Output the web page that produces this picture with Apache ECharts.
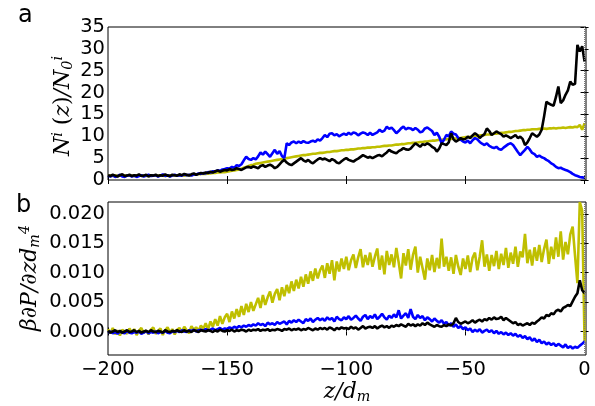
<!DOCTYPE html>
<html><head><meta charset="utf-8">
<script src="https://cdn.jsdelivr.net/npm/echarts@6/dist/echarts.min.js"></script>
<style>html,body{margin:0;padding:0;background:#fff}#c{width:595px;height:406px}</style>
</head><body><div id="c"></div>
<script>
// z positions (units of d_m)
const z = [-200,-199,-198,-197,-196,-195,-194,-193,-192,-191,-190,-189,-188,-187,-186,-185,-184,-183,-182,-181,-180,-179,-178,-177,-176,-175,-174,-173,-172,-171,-170,-169,-168,-167,-166,-165,-164,-163,-162,-161,-160,-159,-158,-157,-156,-155,-154,-153,-152,-151,-150,-149,-148,-147,-146,-145,-144,-143,-142,-141,-140,-139,-138,-137,-136,-135,-134,-133,-132,-131,-130,-129,-128,-127,-126,-125,-124,-123,-122,-121,-120,-119,-118,-117,-116,-115,-114,-113,-112,-111,-110,-109,-108,-107,-106,-105,-104,-103,-102,-101,-100,-99,-98,-97,-96,-95,-94,-93,-92,-91,-90,-89,-88,-87,-86,-85,-84,-83,-82,-81,-80,-79,-78,-77,-76,-75,-74,-73,-72,-71,-70,-69,-68,-67,-66,-65,-64,-63,-62,-61,-60,-59,-58,-57,-56,-55,-54,-53,-52,-51,-50,-49,-48,-47,-46,-45,-44,-43,-42,-41,-40,-39,-38,-37,-36,-35,-34,-33,-32,-31,-30,-29,-28,-27,-26,-25,-24,-23,-22,-21,-20,-19,-18,-17,-16,-15,-14,-13,-12,-11,-10,-9,-8,-7,-6,-5,-4,-3,-2,-1,0];

// panel a: N^i(z)/N_0^i
const topYellow = [
1.0,1.1,0.9,1.0,1.0,1.1,0.9,1.0,1.1,1.0,
1.0,0.9,1.0,1.1,1.0,1.0,0.9,1.0,1.1,1.0,
1.0,1.0,1.1,1.0,0.9,1.0,1.1,1.0,1.0,1.1,
1.0,1.1,1.0,1.1,1.2,1.1,1.2,1.3,1.3,1.4,
1.4,1.4,1.5,1.5,1.6,1.6,1.7,1.7,1.8,1.8,
1.9,2.0,2.1,2.2,2.3,2.4,2.6,2.8,3.0,3.2,
3.4,3.5,3.7,3.8,3.9,4.0,4.1,4.2,4.3,4.4,
4.5,4.6,4.7,4.8,4.9,5.0,5.1,5.2,5.3,5.4,
5.5,5.6,5.7,5.7,5.8,5.9,6.0,6.0,6.1,6.2,
6.2,6.3,6.4,6.4,6.5,6.6,6.6,6.7,6.8,6.8,
6.9,6.9,7.0,7.0,7.1,7.2,7.2,7.3,7.3,7.4,
7.4,7.5,7.5,7.6,7.6,7.7,7.8,7.8,7.9,7.9,
8.0,8.1,8.1,8.2,8.2,8.3,8.4,8.4,8.5,8.5,
8.6,8.7,8.7,8.8,8.8,8.9,9.0,9.0,9.1,9.2,
9.2,9.3,9.3,9.4,9.4,9.5,9.5,9.6,9.6,9.7,
9.8,9.8,9.9,10.0,10.0,10.1,10.2,10.2,10.3,10.4,
10.4,10.5,10.6,10.6,10.7,10.8,10.8,10.9,11.0,11.0,
11.1,11.2,11.2,11.3,11.4,11.4,11.5,11.5,11.6,11.6,
11.6,11.7,11.7,11.8,11.7,11.8,11.8,11.9,11.8,11.9,
11.9,12.0,11.9,12.0,12.1,12.0,12.2,12.1,12.6,11.5,
13.0];
const topBlue = [
1.0,0.8,1.1,0.7,0.9,1.2,0.8,0.7,1.0,1.1,
0.8,1.0,0.7,0.9,1.1,0.8,1.0,1.2,0.9,1.0,
1.1,0.8,1.0,1.3,0.9,1.1,0.8,1.0,1.2,1.0,
1.1,1.0,1.3,1.1,1.2,1.0,1.3,1.2,1.5,1.4,
1.6,1.5,1.8,1.7,2.0,1.9,2.2,2.1,2.4,2.5,
2.7,2.6,3.0,2.8,3.4,3.2,3.6,4.5,5.3,4.8,
4.6,5.0,4.7,5.4,6.3,5.8,6.5,5.9,5.3,6.1,
6.9,6.0,6.6,5.5,5.0,8.4,8.0,8.6,8.8,8.4,
8.8,8.5,8.9,8.6,8.5,8.8,9.0,8.7,9.3,9.0,
9.6,10.3,9.8,10.6,10.7,10.2,10.5,10.0,10.3,10.6,
10.3,10.8,10.4,10.9,10.7,10.2,10.6,10.9,10.7,10.3,
10.8,10.3,10.6,10.9,11.5,11.0,11.3,12.2,11.7,12.0,
11.4,10.7,11.2,11.8,12.2,11.6,11.9,11.8,11.4,11.9,
11.5,10.9,11.1,11.8,12.0,11.6,11.2,10.3,10.8,9.9,
8.4,9.2,10.3,10.0,11.1,10.6,10.4,9.6,9.2,8.8,
8.6,9.0,8.4,9.1,9.6,9.3,8.7,8.3,8.0,8.4,
7.8,7.5,7.3,7.6,7.1,6.9,7.4,7.8,8.2,8.4,
8.0,7.2,6.4,5.7,6.3,6.9,7.6,7.0,6.2,5.9,
5.3,5.6,5.2,5.0,4.6,4.3,3.8,3.5,3.0,2.7,
2.8,2.5,2.3,2.1,1.8,1.4,1.1,0.9,0.7,0.6,
0.5];
const topBlack = [
1.1,0.9,1.2,1.0,0.8,1.1,1.3,0.9,1.0,1.2,
0.9,1.1,1.0,1.3,0.9,1.0,1.2,0.8,1.1,1.0,
1.2,0.9,1.1,1.0,1.3,1.0,0.9,1.2,1.1,1.0,
1.3,1.1,1.4,1.2,1.0,1.3,1.5,1.2,1.4,1.6,
1.5,1.7,1.6,1.9,1.7,2.0,2.2,1.9,2.1,2.3,
2.2,2.5,2.3,2.4,2.7,2.5,2.3,2.6,2.9,3.0,
2.8,3.1,2.9,2.7,3.2,3.4,3.0,3.3,3.5,3.2,
2.7,3.0,3.6,4.2,4.6,4.0,3.6,3.4,3.8,4.2,
4.6,5.0,4.5,4.2,4.6,4.1,3.8,4.3,4.7,5.0,
4.7,4.9,4.6,4.3,4.8,4.5,4.0,3.8,4.3,4.7,
5.0,4.6,4.4,4.2,4.6,4.9,5.3,5.7,5.4,5.1,
5.3,5.0,5.3,5.6,5.7,5.4,5.9,6.3,6.9,6.5,
6.3,6.1,6.6,6.9,7.3,7.0,6.9,7.2,7.8,8.4,
8.0,7.6,8.2,8.0,8.4,8.1,7.6,7.3,6.5,7.2,
8.4,8.2,8.0,8.6,10.7,9.3,8.8,9.1,9.6,9.3,
9.4,9.9,9.6,10.2,10.7,10.3,9.6,10.1,10.5,11.8,
11.2,10.3,10.7,11.1,10.8,10.5,9.9,10.2,9.9,9.6,
9.9,10.3,9.6,9.9,9.4,8.0,8.6,9.6,10.7,10.3,
9.9,10.4,11.5,14.5,17.9,17.5,17.2,17.0,19.0,21.4,
17.6,18.2,19.5,20.5,22.5,21.8,22.0,30.9,29.4,30.6,
27.1];

// panel b: beta dP/dz d_m^4
const botYellow = [
0.0004,-0.0003,0.0006,-0.0005,0.0002,-0.0007,0.0003,0.0000,-0.0004,0.0005,
-0.0002,0.0004,-0.0006,0.0001,0.0006,-0.0003,0.0002,-0.0005,0.0003,0.0007,
-0.0004,0.0001,0.0005,-0.0006,0.0002,0.0007,-0.0002,0.0004,-0.0005,0.0003,
0.0006,-0.0001,0.0008,0.0002,-0.0003,0.0009,0.0003,0.0007,0.0001,0.0010,
0.0004,0.0014,0.0003,0.0017,0.0008,0.0021,0.0010,0.0026,0.0013,0.0024,
0.0030,0.0016,0.0034,0.0022,0.0038,0.0025,0.0043,0.0028,0.0047,0.0033,
0.0050,0.0035,0.0046,0.0057,0.0040,0.0062,0.0045,0.0058,0.0068,0.0049,
0.0064,0.0072,0.0053,0.0075,0.0060,0.0079,0.0065,0.0085,0.0069,0.0088,
0.0073,0.0093,0.0076,0.0097,0.0081,0.0102,0.0086,0.0107,0.0090,0.0104,
0.0112,0.0091,0.0116,0.0098,0.0121,0.0087,0.0119,0.0102,0.0124,0.0106,
0.0127,0.0104,0.0121,0.0131,0.0108,0.0126,0.0140,0.0109,0.0130,0.0113,
0.0134,0.0110,0.0127,0.0141,0.0105,0.0129,0.0097,0.0137,0.0113,0.0131,
0.0109,0.0142,0.0117,0.0090,0.0133,0.0112,0.0140,0.0105,0.0130,0.0144,
0.0100,0.0127,0.0108,0.0088,0.0124,0.0104,0.0130,0.0101,0.0125,0.0107,
0.0158,0.0110,0.0127,0.0103,0.0126,0.0098,0.0130,0.0110,0.0096,0.0124,
0.0106,0.0129,0.0101,0.0125,0.0134,0.0104,0.0127,0.0155,0.0110,0.0131,
0.0103,0.0130,0.0111,0.0137,0.0106,0.0132,0.0113,0.0142,0.0108,0.0134,
0.0115,0.0144,0.0110,0.0136,0.0126,0.0166,0.0116,0.0139,0.0112,0.0143,
0.0120,0.0147,0.0118,0.0140,0.0156,0.0115,0.0144,0.0123,0.0160,0.0127,
0.0170,0.0122,0.0152,0.0131,0.0165,0.0178,0.0129,0.0082,0.0220,0.0205,
-0.0017];
const botBlue = [
-0.0002,0.0000,-0.0003,-0.0001,-0.0004,0.0000,-0.0002,-0.0003,0.0001,-0.0002,
-0.0003,-0.0001,-0.0002,0.0000,-0.0004,-0.0002,0.0001,-0.0003,-0.0001,-0.0002,
0.0000,-0.0003,-0.0001,-0.0002,0.0001,-0.0002,-0.0003,0.0000,-0.0001,0.0001,
-0.0001,0.0002,0.0000,-0.0001,0.0002,0.0001,0.0003,0.0000,0.0002,0.0003,
0.0001,0.0004,0.0002,0.0003,0.0005,0.0002,0.0004,0.0006,0.0003,0.0005,
0.0004,0.0007,0.0005,0.0008,0.0006,0.0009,0.0007,0.0010,0.0008,0.0011,
0.0009,0.0012,0.0010,0.0014,0.0011,0.0013,0.0009,0.0015,0.0012,0.0014,
0.0011,0.0016,0.0013,0.0015,0.0017,0.0012,0.0018,0.0015,0.0019,0.0016,
0.0020,0.0017,0.0014,0.0021,0.0018,0.0022,0.0016,0.0020,0.0023,0.0019,
0.0022,0.0018,0.0024,0.0020,0.0023,0.0017,0.0025,0.0021,0.0019,0.0024,
0.0021,0.0026,0.0020,0.0023,0.0027,0.0022,0.0018,0.0025,0.0028,0.0021,
0.0026,0.0023,0.0029,0.0021,0.0025,0.0030,0.0024,0.0020,0.0027,0.0023,
0.0029,0.0024,0.0036,0.0022,0.0027,0.0031,0.0023,0.0038,0.0025,0.0021,
0.0028,0.0023,0.0026,0.0019,0.0024,0.0021,0.0017,0.0022,0.0018,0.0015,
0.0019,0.0013,0.0016,0.0010,0.0014,0.0008,0.0012,0.0006,0.0009,0.0004,
0.0007,0.0002,0.0005,-0.0001,0.0003,0.0000,0.0004,-0.0002,0.0001,0.0003,
-0.0001,0.0002,-0.0003,0.0001,-0.0004,-0.0001,-0.0005,-0.0002,-0.0006,-0.0003,
-0.0007,-0.0004,-0.0009,-0.0006,-0.0011,-0.0008,-0.0013,-0.0010,-0.0016,-0.0012,
-0.0018,-0.0014,-0.0020,-0.0017,-0.0022,-0.0019,-0.0023,-0.0020,-0.0025,-0.0021,
-0.0024,-0.0027,-0.0022,-0.0028,-0.0025,-0.0029,-0.0026,-0.0028,-0.0024,-0.0021,
-0.0017];
const botBlack = [
0.0001,-0.0002,0.0000,0.0002,-0.0001,0.0001,-0.0002,0.0000,0.0002,-0.0001,
0.0000,0.0002,-0.0001,0.0001,-0.0002,0.0000,0.0001,-0.0001,0.0002,0.0000,
-0.0001,0.0001,0.0000,-0.0002,0.0002,0.0000,-0.0001,0.0001,0.0000,0.0002,
0.0000,-0.0001,0.0002,0.0000,0.0001,-0.0001,0.0002,0.0001,-0.0001,0.0002,
0.0001,0.0000,0.0002,0.0001,-0.0001,0.0002,0.0000,0.0003,0.0001,0.0000,
0.0002,0.0001,0.0003,0.0000,0.0002,0.0001,0.0003,0.0002,0.0000,0.0003,
0.0001,0.0003,0.0002,0.0004,0.0001,0.0003,0.0002,0.0004,0.0001,0.0003,
0.0002,0.0004,0.0003,0.0001,0.0004,0.0003,0.0005,0.0002,0.0004,0.0003,
0.0005,0.0002,0.0004,0.0003,0.0006,0.0004,0.0002,0.0005,0.0003,0.0006,
0.0004,0.0006,0.0003,0.0007,0.0005,0.0002,0.0006,0.0004,0.0007,0.0005,
0.0006,0.0004,0.0008,0.0005,0.0007,0.0003,0.0006,0.0009,0.0005,0.0007,
0.0008,0.0006,0.0009,0.0005,0.0008,0.0010,0.0007,0.0009,0.0006,0.0010,
0.0008,0.0011,0.0009,0.0012,0.0010,0.0008,0.0013,0.0010,0.0012,0.0009,
0.0012,0.0010,0.0014,0.0011,0.0015,0.0012,0.0010,0.0008,0.0011,0.0009,
0.0008,0.0011,0.0009,0.0012,0.0010,0.0014,0.0023,0.0016,0.0013,0.0015,
0.0017,0.0014,0.0016,0.0019,0.0015,0.0018,0.0020,0.0017,0.0021,0.0019,
0.0023,0.0020,0.0024,0.0021,0.0022,0.0025,0.0019,0.0023,0.0020,0.0017,
0.0014,0.0016,0.0011,0.0013,0.0010,0.0012,0.0014,0.0011,0.0015,0.0013,
0.0017,0.0020,0.0024,0.0022,0.0028,0.0026,0.0031,0.0029,0.0035,0.0037,
0.0034,0.0040,0.0042,0.0045,0.0043,0.0051,0.0059,0.0065,0.0087,0.0070,
0.0065];

// tick labels
const xTicks = [-200, -150, -100, -50, 0];
const yTicksTop = [0, 5, 10, 15, 20, 25, 30, 35];
const yTicksBot = [0.000, 0.005, 0.010, 0.015, 0.020];

const pairs = arr => z.map((v, i) => [v, arr[i]]);
const FONT = 'DejaVu Sans';
const minus = s => String(s).replace('-', '\u2212');

const chart = echarts.init(document.getElementById('c'), null, {renderer: 'canvas'});

const tickIn = (vals) => ({show: true, inside: true, length: 4, lineStyle: {color: '#000', width: 1}, customValues: vals});
function xAx(gi, pos, labels) {
  return {
    type: 'value', gridIndex: gi, position: pos, min: -200, max: 0.6,
    axisLine: {show: false}, splitLine: {show: false},
    axisTick: tickIn(xTicks),
    axisLabel: labels ? {show: true, customValues: xTicks, color: '#000', fontFamily: FONT, fontSize: 19.5, margin: 5,
      formatter: v => minus(v)} : {show: false}
  };
}
function yAx(gi, pos, min, max, vals, labels, fmt) {
  return {
    type: 'value', gridIndex: gi, position: pos, min: min, max: max,
    axisLine: {show: false}, splitLine: {show: false},
    axisTick: tickIn(vals),
    axisLabel: labels ? {show: true, customValues: vals, color: '#000', fontFamily: FONT, fontSize: 19.5, margin: 3,
      formatter: fmt} : {show: false}
  };
}
const lineS = (name, data, color, xi, yi, extra) => Object.assign({
  name: name, type: 'line', xAxisIndex: xi, yAxisIndex: yi, data: data,
  showSymbol: false, symbol: 'none', lineStyle: {color: color, width: 2.6}, itemStyle: {color: color},
  animation: false, silent: true
}, extra || {});
const vline = {
  silent: true, symbol: ['none', 'none'], label: {show: false},
  lineStyle: {type: 'dotted', color: '#777', width: 1}, data: [{xAxis: 0}], animation: false
};

const mathFont = 'DejaVu Serif';
const richMath = (size) => ({
  m: {fontFamily: mathFont, fontStyle: 'italic', fontSize: size, lineHeight: 24, verticalAlign: 'middle'},
  u: {fontFamily: mathFont, fontSize: size, lineHeight: 24, verticalAlign: 'middle'},
  sp: {fontFamily: mathFont, fontStyle: 'italic', fontSize: size * 0.65, lineHeight: 14, verticalAlign: 'top'},
  sb: {fontFamily: mathFont, fontStyle: 'italic', fontSize: size * 0.65, lineHeight: 14, verticalAlign: 'bottom'},
  spu: {fontFamily: mathFont, fontSize: size * 0.65, lineHeight: 14, verticalAlign: 'top'},
  sbu: {fontFamily: mathFont, fontSize: size * 0.65, lineHeight: 14, verticalAlign: 'bottom'}
});

chart.setOption({
  animation: false,
  backgroundColor: '#fff',
  grid: [
    {left: 108, right: 9, top: 27, height: 153, show: true, borderColor: '#000', borderWidth: 1, backgroundColor: 'transparent', outerBoundsMode: 'none'},
    {left: 108, right: 9, top: 202, height: 153, show: true, borderColor: '#000', borderWidth: 1, backgroundColor: 'transparent', outerBoundsMode: 'none'}
  ],
  xAxis: [xAx(0, 'bottom', false), xAx(0, 'top', false), xAx(1, 'bottom', true), xAx(1, 'top', false)],
  yAxis: [
    yAx(0, 'left', 0, 35, yTicksTop, true, v => String(v)),
    yAx(0, 'right', 0, 35, yTicksTop, false),
    yAx(1, 'left', -0.004, 0.022, yTicksBot, true, v => v.toFixed(3)),
    yAx(1, 'right', -0.004, 0.022, yTicksBot, false)
  ],
  series: [
    lineS('yellow a', pairs(topYellow), '#bfbf00', 0, 0, {markLine: vline}),
    lineS('blue a', pairs(topBlue), '#0000ff', 0, 0),
    lineS('black a', pairs(topBlack), '#000000', 0, 0),
    lineS('yellow b', pairs(botYellow), '#bfbf00', 2, 2, {markLine: vline}),
    lineS('blue b', pairs(botBlue), '#0000ff', 2, 2),
    lineS('black b', pairs(botBlack), '#000000', 2, 2)
  ],
  graphic: [
    {type: 'text', left: 18, top: 4, style: {text: 'a', font: '24px "DejaVu Sans"', fill: '#000'}},
    {type: 'text', left: 16, top: 194, style: {text: 'b', font: '24px "DejaVu Sans"', fill: '#000'}},
    {type: 'text', x: 63, y: 106, rotation: Math.PI / 2,
      style: {text: '{m|N}{sp|i}{u| (}{m|z}{u|)}{m|/N}{sb|0}{sp|i}', rich: richMath(22), align: 'center', verticalAlign: 'middle', fill: '#000'}},
    {type: 'text', x: 30, y: 278, rotation: Math.PI / 2,
      style: {text: '{m|β∂P/∂zd}{sb|m}{sp|4}', rich: richMath(22), align: 'center', verticalAlign: 'middle', fill: '#000'}},
    {type: 'text', x: 347, y: 392,
      style: {text: '{m|z/d}{sb|m}', rich: richMath(22), align: 'center', verticalAlign: 'middle', fill: '#000'}}
  ]
});
</script>
</body></html>
